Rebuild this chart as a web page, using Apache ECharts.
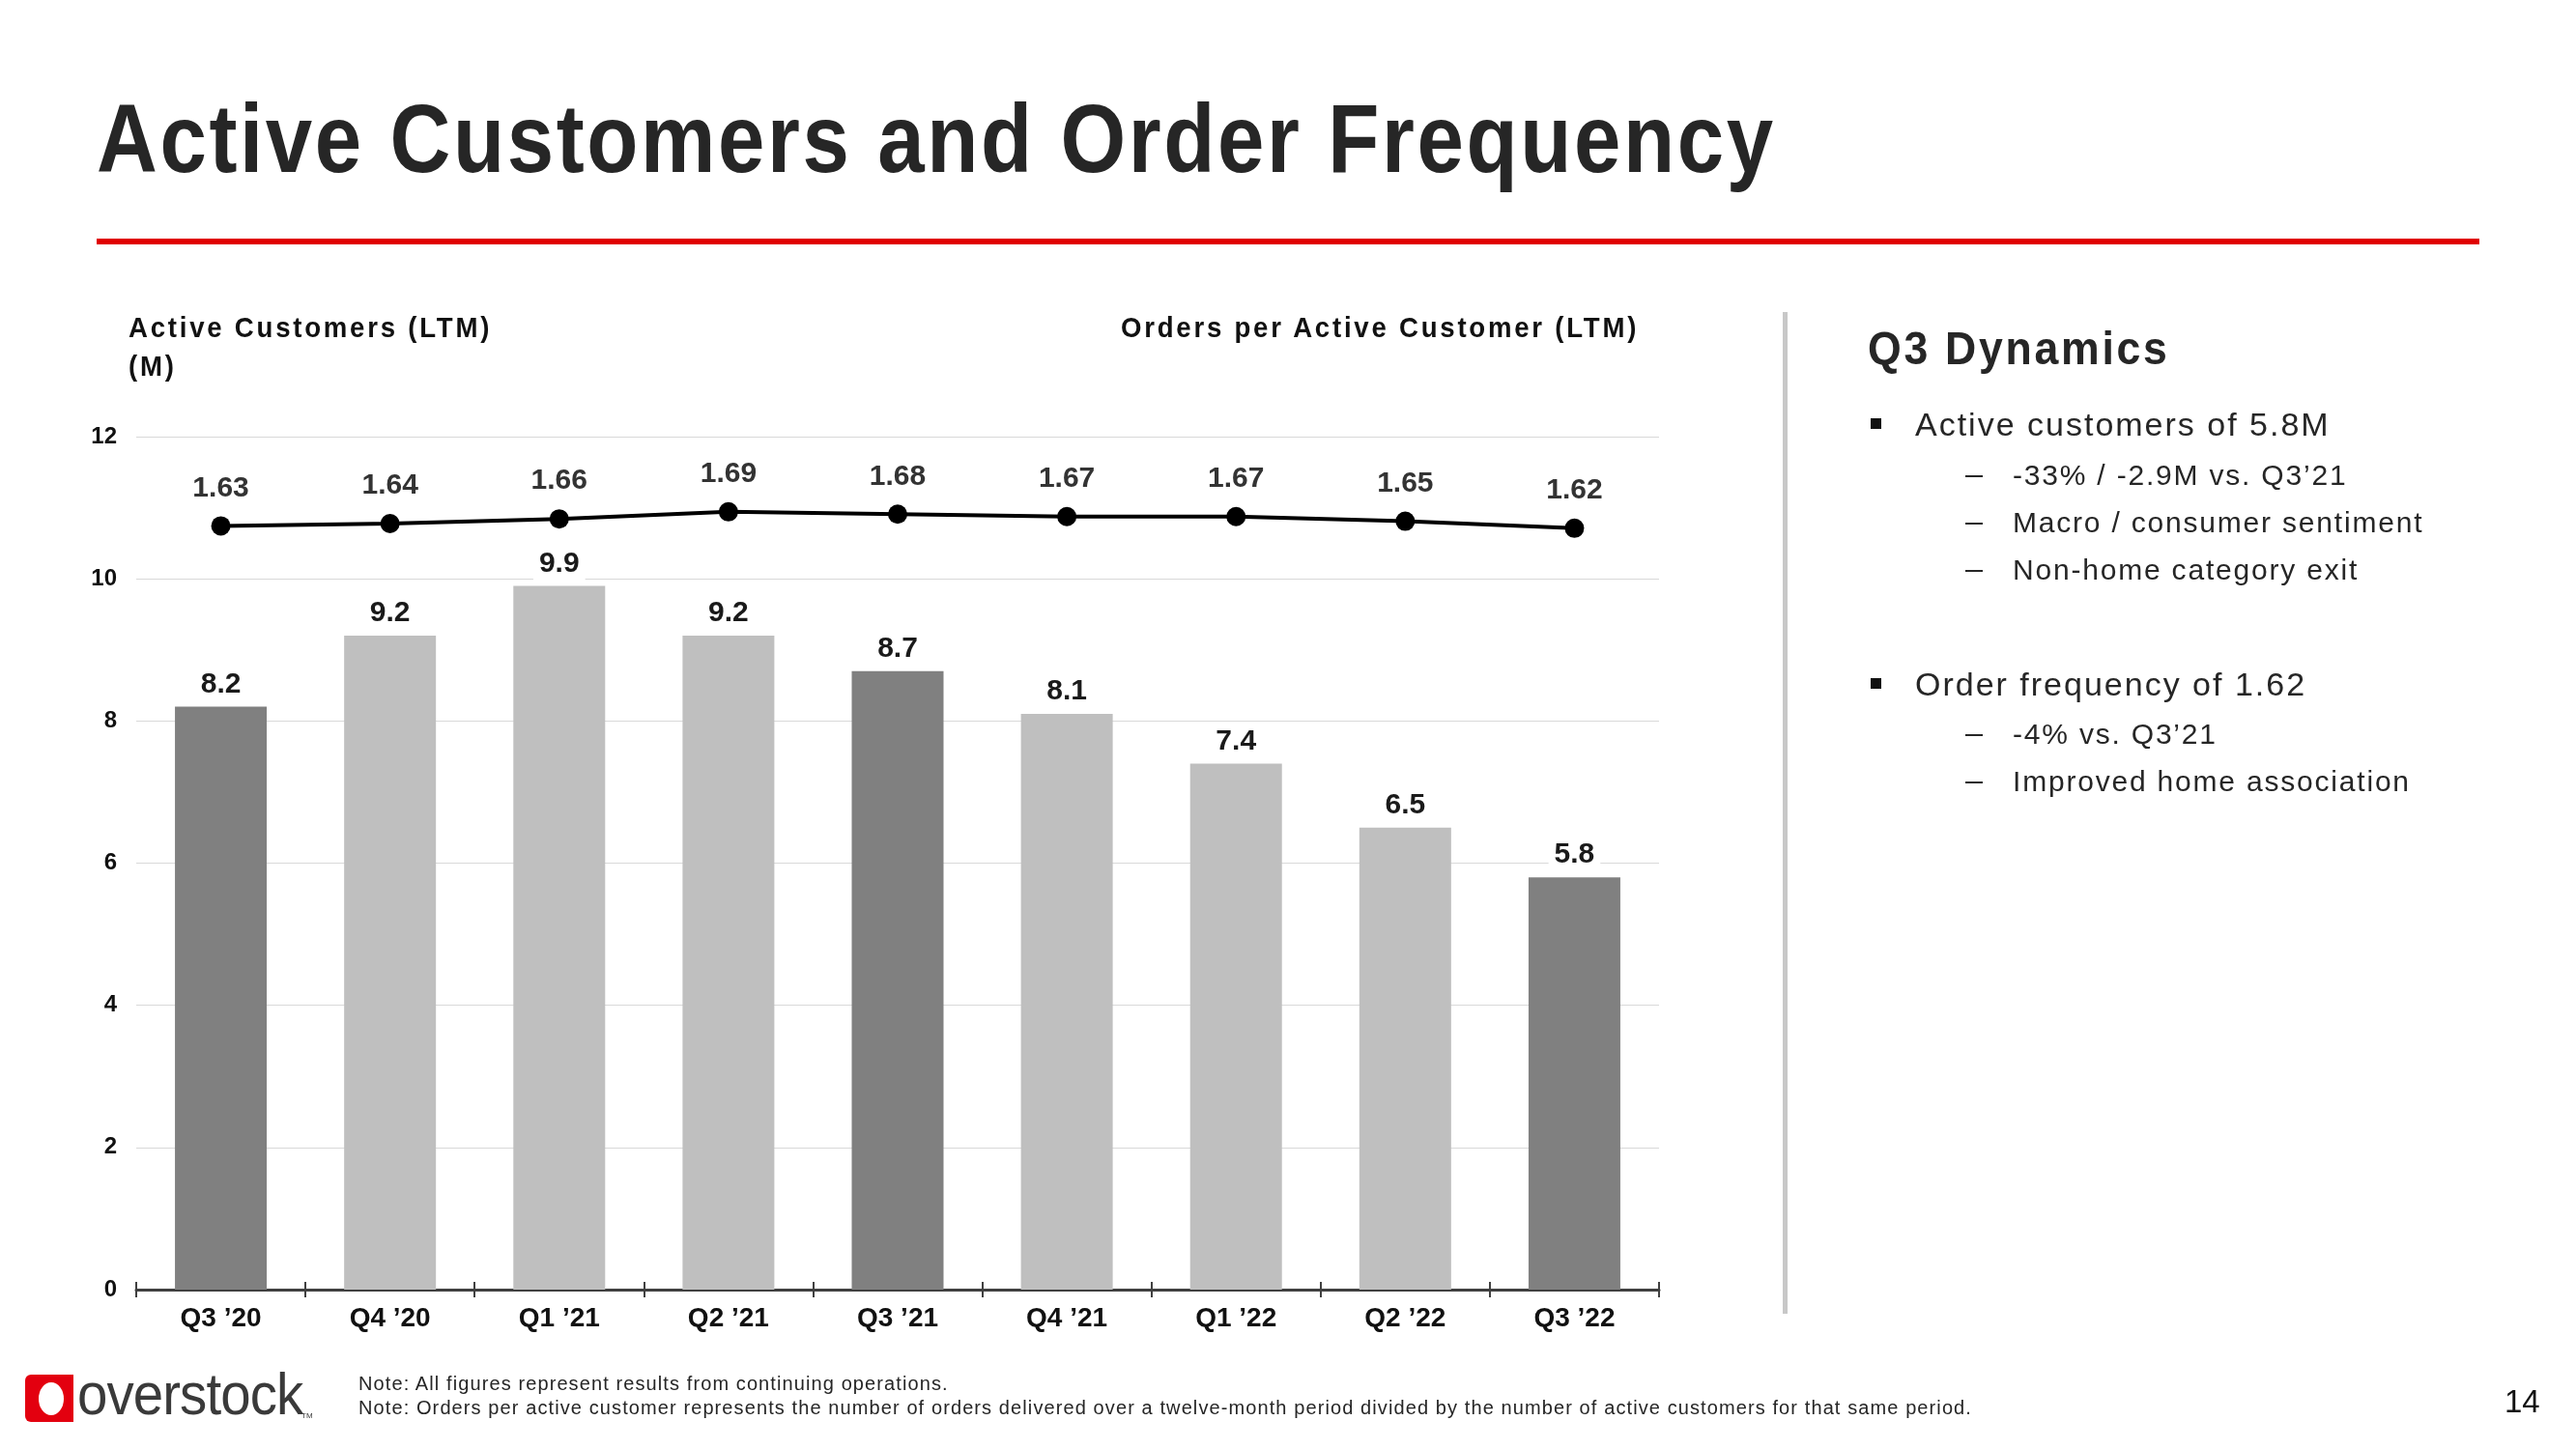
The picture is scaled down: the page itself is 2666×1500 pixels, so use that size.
<!DOCTYPE html>
<html>
<head>
<meta charset="utf-8">
<script src="https://cdn.jsdelivr.net/npm/echarts@6/dist/echarts.min.js"></script>
<style>
  html, body { margin: 0; padding: 0; background: #fff; }
  #page {
    position: relative; width: 2666px; height: 1500px; overflow: hidden;
    font-family: 'Liberation Sans Narrow', 'Arial Narrow', 'Liberation Sans', sans-serif;
    color: #262626;
  }
  #chart { position: absolute; left: 0; top: 0; width: 2666px; height: 1500px; }
  .t { position: absolute; white-space: nowrap; line-height: 1; transform-origin: left top; }
  .title { left: 100px; top: 93px; font-size: 100px; font-weight: bold; letter-spacing: 3px; transform: scaleX(0.87); }
  .redline { position: absolute; left: 100px; top: 247px; width: 2466px; height: 6px; background: #e00000; }
  .axname { font-size: 30px; font-weight: bold; letter-spacing: 3px; color: #111; transform: scaleX(0.92); }
  .divider { position: absolute; left: 1845px; top: 323px; width: 5px; height: 1037px; background: #c8c8c8; }
  .h2 { left: 1933px; top: 336px; font-size: 49px; font-weight: bold; letter-spacing: 3px; transform: scaleX(0.91); }
  .b1 { font-size: 34px; letter-spacing: 2px; }
  .b2 { font-size: 30px; letter-spacing: 1.8px; }
  .sq { position: absolute; width: 11px; height: 11px; background: #111; }
  .dash { position: absolute; width: 18px; height: 2px; background: #262626; }
  .note { font-size: 20px; letter-spacing: 1.1px; color: #262626; }
  .logo-box { position: absolute; left: 26px; top: 1423px; width: 50px; height: 49px; background: #e3000f; border-radius: 6px 0 0 6px; }
  .logo-o { position: absolute; left: 14px; top: 8px; width: 26px; height: 34px; background: #fff; border-radius: 50%; }
</style>
</head>
<body>
<div id="page">
  <div id="chart"></div>

  <div class="t title">Active Customers and Order Frequency</div>
  <div class="redline"></div>

  <div class="t axname" style="left:133px;top:324px;">Active Customers (LTM)</div>
  <div class="t axname" style="left:133px;top:364px;">(M)</div>
  <div class="t axname" style="left:1160px;top:324px;">Orders per Active Customer (LTM)</div>

  <div class="divider"></div>

  <div class="t h2">Q3 Dynamics</div>
  <div class="sq" style="left:1936px;top:433px;"></div>
  <div class="t b1" style="left:1982px;top:422px;">Active customers of 5.8M</div>
  <div class="dash" style="left:2034px;top:492px;"></div>
  <div class="t b2" style="left:2083px;top:477px;">-33% / -2.9M vs. Q3’21</div>
  <div class="dash" style="left:2034px;top:541px;"></div>
  <div class="t b2" style="left:2083px;top:526px;">Macro / consumer sentiment</div>
  <div class="dash" style="left:2034px;top:590px;"></div>
  <div class="t b2" style="left:2083px;top:575px;">Non-home category exit</div>

  <div class="sq" style="left:1936px;top:702px;"></div>
  <div class="t b1" style="left:1982px;top:691px;">Order frequency of 1.62</div>
  <div class="dash" style="left:2034px;top:760px;"></div>
  <div class="t b2" style="left:2083px;top:745px;">-4% vs. Q3’21</div>
  <div class="dash" style="left:2034px;top:809px;"></div>
  <div class="t b2" style="left:2083px;top:794px;">Improved home association</div>

  <div class="logo-box"><div class="logo-o"></div></div>
  <div class="t" style="left:80px;top:1412px;font-size:62px;color:#3a3a3a;letter-spacing:-1px;transform:scaleX(0.91);">overstock</div>
  <div class="t" style="left:312px;top:1462px;font-size:8px;color:#3a3a3a;">TM</div>

  <div class="t note" style="left:371px;top:1422px;">Note: All figures represent results from continuing operations.</div>
  <div class="t note" style="left:371px;top:1447px;">Note: Orders per active customer represents the number of orders delivered over a twelve-month period divided by the number of active customers for that same period.</div>

  <div class="t" style="left:2592px;top:1434px;font-size:33px;color:#111;">14</div>
</div>

<script>
const categories = ['Q3 \u201920', 'Q4 \u201920', 'Q1 \u201921', 'Q2 \u201921', 'Q3 \u201921', 'Q4 \u201921', 'Q1 \u201922', 'Q2 \u201922', 'Q3 \u201922']
const activeCustomers = [8.2, 9.2, 9.9, 9.2, 8.7, 8.1, 7.4, 6.5, 5.8]
const ordersPerCustomer = [1.63, 1.64, 1.66, 1.69, 1.68, 1.67, 1.67, 1.65, 1.62]
const yTicks = [0, 2, 4, 6, 8, 10, 12]

const FONT = "'Liberation Sans Narrow', 'Arial Narrow', 'Liberation Sans', sans-serif"

const chart = echarts.init(document.getElementById('chart'))

const option = {
  animation: false,
  textStyle: { fontFamily: FONT },
  grid: { left: 141, right: 949, top: 452, bottom: 165 },
  xAxis: [{
    type: 'category',
    data: categories,
    axisLine: { lineStyle: { color: '#404040', width: 3 } },
    axisTick: { show: true, length: 8, lineStyle: { color: '#404040', width: 2 } },
    axisLabel: { fontSize: 28, fontWeight: 'bold', color: '#111', margin: 16, fontFamily: FONT }
  }, {
    // upward half of the boundary ticks
    type: 'category',
    data: categories,
    position: 'bottom',
    axisLine: { show: false, onZero: false },
    axisTick: { show: true, inside: true, length: 8, lineStyle: { color: '#404040', width: 2 } },
    axisLabel: { show: false }
  }],
  yAxis: [{
    type: 'value',
    min: yTicks[0],
    max: yTicks[yTicks.length - 1],
    interval: 2,
    axisLine: { show: false },
    axisTick: { show: false },
    axisLabel: { fontSize: 24, fontWeight: 'bold', color: '#111', margin: 20, fontFamily: FONT },
    splitLine: { lineStyle: { color: '#d9d9d9', width: 1 } }
  }, {
    type: 'value',
    show: false,
    min: -1.62,
    max: 2.01,
    splitLine: { show: false }
  }],
  series: [{
    name: 'Active Customers (LTM)',
    type: 'bar',
    xAxisIndex: 0,
    yAxisIndex: 0,
    barWidth: 95,
    data: activeCustomers,
    itemStyle: {
      color: p => (categories[p.dataIndex].startsWith('Q3') ? '#808080' : '#bfbfbf')
    },
    label: {
      show: true,
      position: 'top',
      distance: 6,
      fontSize: 30,
      fontWeight: 'bold',
      color: '#1a1a1a',
      fontFamily: FONT,
      backgroundColor: '#fff',
      padding: [2, 6],
      formatter: p => p.value.toFixed(1)
    }
  }, {
    name: 'Orders per Active Customer (LTM)',
    type: 'line',
    xAxisIndex: 0,
    yAxisIndex: 1,
    data: ordersPerCustomer,
    symbol: 'circle',
    symbolSize: 20,
    lineStyle: { color: '#000', width: 4 },
    itemStyle: { color: '#000' },
    label: {
      show: true,
      position: 'top',
      distance: 14,
      fontSize: 30,
      fontWeight: 'bold',
      color: '#333',
      fontFamily: FONT,
      formatter: p => p.value.toFixed(2)
    },
    z: 5
  }]
}

chart.setOption(option)
</script>
</body>
</html>
